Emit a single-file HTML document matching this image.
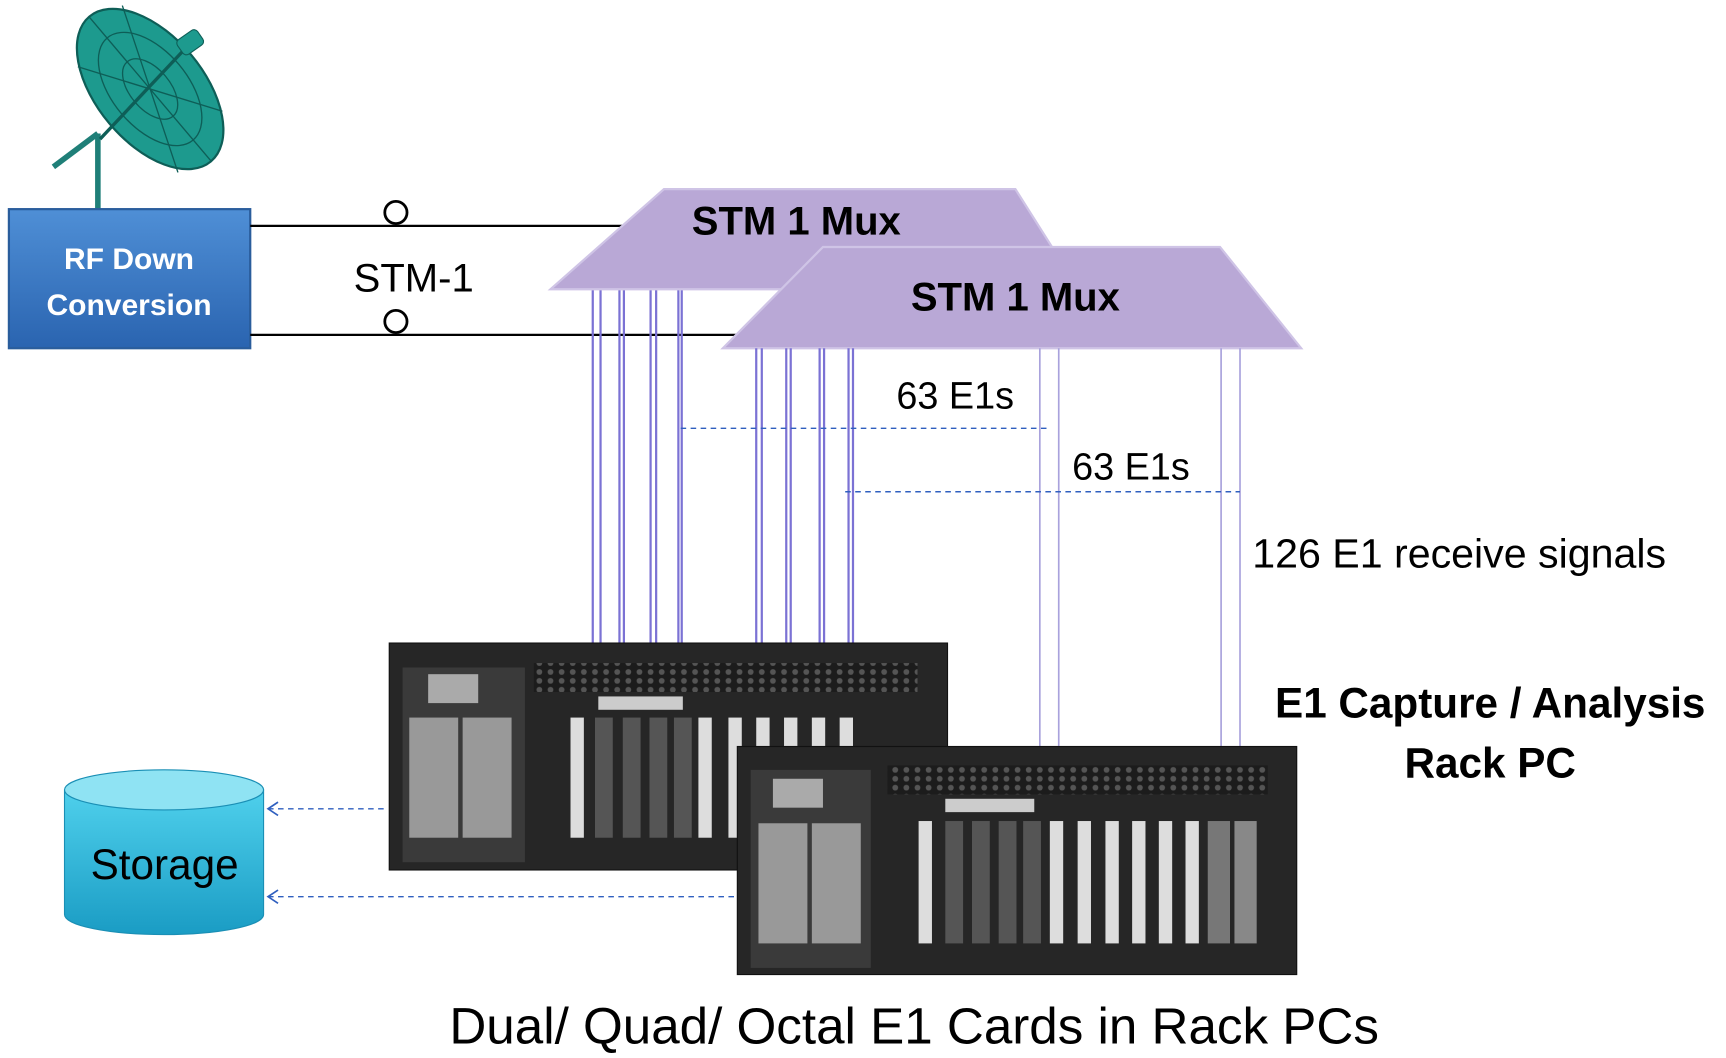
<!DOCTYPE html>
<html><head><meta charset="utf-8"><style>
html,body{margin:0;padding:0;background:#fff;}
svg{display:block;}
text{font-family:"Liberation Sans",sans-serif;}
</style></head><body>
<svg width="1726" height="1058" viewBox="0 0 1552 951" preserveAspectRatio="none" xmlns="http://www.w3.org/2000/svg">
<defs>
<linearGradient id="blue" x1="0" y1="0" x2="0" y2="1"><stop offset="0" stop-color="#4f8fd6"/><stop offset="1" stop-color="#2a64b0"/></linearGradient>
<linearGradient id="cyl" x1="0" y1="0" x2="0" y2="1"><stop offset="0" stop-color="#4fd0ec"/><stop offset="1" stop-color="#1a9cc4"/></linearGradient>
<pattern id="holes" width="10" height="8" patternUnits="userSpaceOnUse"><rect width="10" height="8" fill="#1c1c1c"/><circle cx="5" cy="4" r="2.6" fill="#555"/></pattern>
</defs>
<line x1="88" y1="120" x2="88" y2="190" stroke="#1f7f78" stroke-width="5"/>
<line x1="88" y1="120" x2="48" y2="150" stroke="#1f7f78" stroke-width="5"/>
<ellipse cx="135" cy="80" rx="85" ry="48" transform="rotate(50 135 80)" fill="#1d9a8e" stroke="#0e5e57" stroke-width="2"/>
<g stroke="#0e5e57" stroke-width="1.2" fill="none">
<ellipse cx="135" cy="80" rx="60" ry="34" transform="rotate(50 135 80)"/>
<ellipse cx="135" cy="80" rx="32" ry="18" transform="rotate(50 135 80)"/>
<line x1="80" y1="15" x2="190" y2="145"/><line x1="70" y1="60" x2="200" y2="100"/><line x1="110" y1="5" x2="160" y2="155"/>
</g>
<line x1="90" y1="125" x2="170" y2="40" stroke="#0e5e57" stroke-width="3"/>
<rect x="160" y="30" width="22" height="16" rx="4" transform="rotate(-35 171 38)" fill="#1d9a8e" stroke="#0e5e57"/>
<rect x="8" y="188" width="217" height="125" fill="url(#blue)" stroke="#2a5d9c" stroke-width="2"/>
<text x="116" y="242" font-size="27" font-weight="bold" fill="#fff" text-anchor="middle">RF Down</text>
<text x="116" y="283" font-size="27" font-weight="bold" fill="#fff" text-anchor="middle">Conversion</text>
<line x1="225" y1="203" x2="560" y2="203" stroke="#000" stroke-width="2"/>
<line x1="225" y1="301" x2="680" y2="301" stroke="#000" stroke-width="2"/>
<circle cx="356" cy="191" r="10" fill="#fff" stroke="#000" stroke-width="2.5"/>
<circle cx="356" cy="289" r="10" fill="#fff" stroke="#000" stroke-width="2.5"/>
<text x="318" y="262" font-size="36">STM-1</text>
<g stroke="#7b72d4" stroke-width="2">
<line x1="533" y1="260" x2="533" y2="578"/><line x1="540" y1="260" x2="540" y2="578"/>
<line x1="557" y1="260" x2="557" y2="578"/><line x1="561" y1="260" x2="561" y2="578"/>
<line x1="585" y1="260" x2="585" y2="578"/><line x1="590" y1="260" x2="590" y2="578"/>
<line x1="610" y1="260" x2="610" y2="578"/><line x1="613" y1="260" x2="613" y2="578"/>
</g>
<polygon points="597,170 913,170 970,260 495,260" fill="#b9a8d6" stroke="#cfc4e6" stroke-width="2"/>
<text x="716" y="211" font-size="36" font-weight="bold" text-anchor="middle">STM 1  Mux</text>
<polygon points="740,222 1097,222 1170,313 650,313" fill="#b9a8d6" stroke="#cfc4e6" stroke-width="2"/>
<text x="913" y="279" font-size="36" font-weight="bold" text-anchor="middle">STM 1  Mux</text>
<g stroke="#7b72d4" stroke-width="2">
<line x1="680" y1="313" x2="680" y2="578"/><line x1="685" y1="313" x2="685" y2="578"/>
<line x1="707" y1="313" x2="707" y2="578"/><line x1="711" y1="313" x2="711" y2="578"/>
<line x1="737" y1="313" x2="737" y2="578"/><line x1="741" y1="313" x2="741" y2="578"/>
<line x1="763" y1="313" x2="763" y2="578"/><line x1="767" y1="313" x2="767" y2="578"/>
</g>
<g stroke="#a9a2dc" stroke-width="1.5">
<line x1="935" y1="313" x2="935" y2="671"/><line x1="952" y1="313" x2="952" y2="671"/>
<line x1="1098" y1="313" x2="1098" y2="671"/><line x1="1115" y1="313" x2="1115" y2="671"/>
</g>
<g stroke="#2f5fbf" stroke-width="1.3" stroke-dasharray="5,4">
<line x1="612" y1="385" x2="945" y2="385"/>
<line x1="760" y1="442" x2="1115" y2="442"/>
</g>
<text x="806" y="367" font-size="34">63 E1s</text>
<text x="964" y="431" font-size="34">63 E1s</text>
<text x="1126" y="510" font-size="37">126 E1 receive signals</text>
<text x="1340" y="645" font-size="38" font-weight="bold" text-anchor="middle">E1 Capture / Analysis</text>
<text x="1340" y="699" font-size="38" font-weight="bold" text-anchor="middle">Rack PC</text>
<g>
<rect x="350" y="578" width="502" height="204" fill="#262626" stroke="#111"/>
<rect x="480" y="596" width="345" height="26" fill="url(#holes)"/>
<rect x="538" y="626" width="76" height="12" fill="#ccc"/>
<rect x="362" y="600" width="110" height="175" fill="#3a3a3a"/>
<rect x="368" y="645" width="44" height="108" fill="#999"/><rect x="416" y="645" width="44" height="108" fill="#999"/>
<rect x="385" y="606" width="45" height="26" fill="#aaa"/>
<g fill="#ddd"><rect x="513" y="645" width="12" height="108"/><rect x="628" y="645" width="12" height="108"/><rect x="655" y="645" width="12" height="108"/><rect x="680" y="645" width="12" height="30"/><rect x="705" y="645" width="12" height="30"/><rect x="730" y="645" width="12" height="30"/><rect x="755" y="645" width="12" height="30"/></g>
<g fill="#555"><rect x="535" y="645" width="16" height="108"/><rect x="560" y="645" width="16" height="108"/><rect x="584" y="645" width="16" height="108"/><rect x="606" y="645" width="16" height="108"/></g>
</g>
<g>
<rect x="663" y="671" width="503" height="205" fill="#262626" stroke="#111"/>
<rect x="798" y="688" width="342" height="26" fill="url(#holes)"/>
<rect x="850" y="718" width="80" height="12" fill="#ccc"/>
<rect x="675" y="692" width="108" height="178" fill="#3a3a3a"/>
<rect x="682" y="740" width="44" height="108" fill="#999"/><rect x="730" y="740" width="44" height="108" fill="#999"/>
<rect x="695" y="700" width="45" height="26" fill="#aaa"/>
<g fill="#ddd"><rect x="826" y="738" width="12" height="110"/><rect x="944" y="738" width="12" height="110"/><rect x="969" y="738" width="12" height="110"/><rect x="994" y="738" width="12" height="110"/><rect x="1018" y="738" width="12" height="110"/><rect x="1042" y="738" width="12" height="110"/><rect x="1066" y="738" width="12" height="110"/></g>
<g fill="#555"><rect x="850" y="738" width="16" height="110"/><rect x="874" y="738" width="16" height="110"/><rect x="898" y="738" width="16" height="110"/><rect x="920" y="738" width="16" height="110"/></g>
<rect x="1086" y="738" width="20" height="110" fill="#777"/><rect x="1110" y="738" width="20" height="110" fill="#888"/>
</g>
<path d="M58,710 L58,822 A89,18 0 0 0 237,822 L237,710 Z" fill="url(#cyl)" stroke="#1a8fb5"/>
<ellipse cx="147.5" cy="710" rx="89.5" ry="18" fill="#8fe3f3" stroke="#1a8fb5"/>
<text x="148" y="790" font-size="38" text-anchor="middle">Storage</text>
<g stroke="#2f5fbf" stroke-width="1.3" stroke-dasharray="5,4" fill="none">
<line x1="345" y1="727" x2="242" y2="727"/>
<line x1="660" y1="806" x2="242" y2="806"/>
</g>
<g stroke="#2f5fbf" stroke-width="1.5" fill="none">
<polyline points="250,721 241,727 250,733"/><polyline points="250,800 241,806 250,812"/>
</g>
<text x="822" y="938" font-size="46" text-anchor="middle">Dual/ Quad/ Octal E1 Cards in Rack PCs</text>
</svg>
</body></html>
